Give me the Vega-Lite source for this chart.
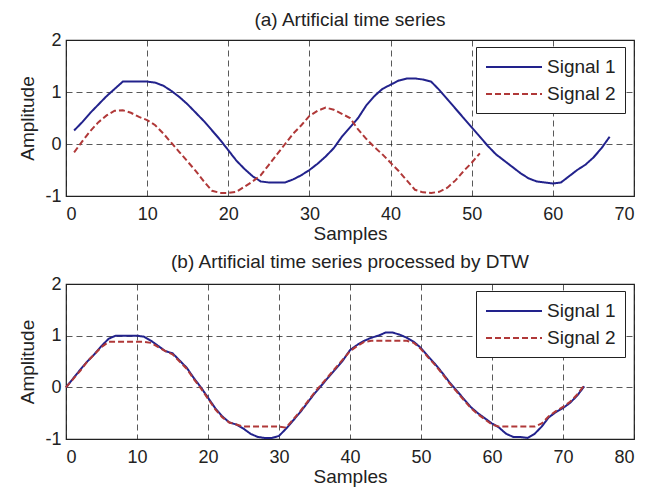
{
 "$schema": "https://vega.github.io/schema/vega-lite/v6.json",
 "padding": {"left": 18, "top": 10, "right": 8, "bottom": 0},
 "spacing": 8,
 "config": {
  "font": "Liberation Sans",
  "view": {"stroke": "#222", "strokeWidth": 1.2},
  "title": {"fontSize": 19, "fontWeight": "normal", "color": "#222", "offset": 1},
  "axis": {
   "labelFontSize": 18, "titleFontSize": 19, "titleFontWeight": "normal",
   "labelColor": "#222", "titleColor": "#222",
   "grid": true, "gridColor": "#222", "gridDash": [6, 4], "gridWidth": 1, "gridOpacity": 0.75,
   "ticks": false, "domain": false, "labelPadding": 5
  },
  "axisX": {"titlePadding": 1, "labelPadding": 9},
  "axisY": {"titlePadding": 7, "labelExpr": "datum.value"},
  "legend": {
   "orient": "none", "legendX": 410, "legendY": 7, "title": null,
   "strokeColor": "#222", "fillColor": "white", "padding": 9,
   "labelFontSize": 19, "labelColor": "#222", "labelOffset": 22, "symbolOffset": 18,
   "symbolType": "M-2.8,0H2.8", "symbolSize": 400, "symbolStrokeWidth": 2,
   "rowPadding": 6
  }
 },
 "datasets": {
  "a": [
   {"s":"Signal 1","x":1,"y":0.26},{"s":"Signal 1","x":2,"y":0.42},{"s":"Signal 1","x":3,"y":0.6},{"s":"Signal 1","x":4,"y":0.76},{"s":"Signal 1","x":5,"y":0.92},{"s":"Signal 1","x":6,"y":1.06},{"s":"Signal 1","x":7,"y":1.2},{"s":"Signal 1","x":8,"y":1.2},{"s":"Signal 1","x":9,"y":1.2},{"s":"Signal 1","x":10,"y":1.2},
   {"s":"Signal 1","x":11,"y":1.18},{"s":"Signal 1","x":12,"y":1.12},{"s":"Signal 1","x":13,"y":1.02},{"s":"Signal 1","x":14,"y":0.9},{"s":"Signal 1","x":15,"y":0.76},{"s":"Signal 1","x":16,"y":0.6},{"s":"Signal 1","x":17,"y":0.44},{"s":"Signal 1","x":18,"y":0.26},{"s":"Signal 1","x":19,"y":0.08},{"s":"Signal 1","x":20,"y":-0.12},
   {"s":"Signal 1","x":21,"y":-0.32},{"s":"Signal 1","x":22,"y":-0.48},{"s":"Signal 1","x":23,"y":-0.62},{"s":"Signal 1","x":24,"y":-0.72},{"s":"Signal 1","x":25,"y":-0.74},{"s":"Signal 1","x":26,"y":-0.74},{"s":"Signal 1","x":27,"y":-0.74},{"s":"Signal 1","x":28,"y":-0.68},{"s":"Signal 1","x":29,"y":-0.6},{"s":"Signal 1","x":30,"y":-0.5},
   {"s":"Signal 1","x":31,"y":-0.38},{"s":"Signal 1","x":32,"y":-0.24},{"s":"Signal 1","x":33,"y":-0.08},{"s":"Signal 1","x":34,"y":0.14},{"s":"Signal 1","x":35,"y":0.32},{"s":"Signal 1","x":36,"y":0.5},{"s":"Signal 1","x":37,"y":0.74},{"s":"Signal 1","x":38,"y":0.92},{"s":"Signal 1","x":39,"y":1.06},{"s":"Signal 1","x":40,"y":1.14},
   {"s":"Signal 1","x":41,"y":1.22},{"s":"Signal 1","x":42,"y":1.26},{"s":"Signal 1","x":43,"y":1.26},{"s":"Signal 1","x":44,"y":1.24},{"s":"Signal 1","x":45,"y":1.2},{"s":"Signal 1","x":46,"y":1.04},{"s":"Signal 1","x":47,"y":0.86},{"s":"Signal 1","x":48,"y":0.68},{"s":"Signal 1","x":49,"y":0.5},{"s":"Signal 1","x":50,"y":0.32},
   {"s":"Signal 1","x":51,"y":0.14},{"s":"Signal 1","x":52,"y":-0.04},{"s":"Signal 1","x":53,"y":-0.2},{"s":"Signal 1","x":54,"y":-0.32},{"s":"Signal 1","x":55,"y":-0.44},{"s":"Signal 1","x":56,"y":-0.56},{"s":"Signal 1","x":57,"y":-0.66},{"s":"Signal 1","x":58,"y":-0.72},{"s":"Signal 1","x":59,"y":-0.74},{"s":"Signal 1","x":60,"y":-0.76},
   {"s":"Signal 1","x":61,"y":-0.74},{"s":"Signal 1","x":62,"y":-0.62},{"s":"Signal 1","x":63,"y":-0.5},{"s":"Signal 1","x":64,"y":-0.4},{"s":"Signal 1","x":65,"y":-0.26},{"s":"Signal 1","x":66,"y":-0.08},{"s":"Signal 1","x":67,"y":0.14},
   {"s":"Signal 2","x":1,"y":-0.16},{"s":"Signal 2","x":2,"y":0.05},{"s":"Signal 2","x":3,"y":0.25},{"s":"Signal 2","x":4,"y":0.42},{"s":"Signal 2","x":5,"y":0.55},{"s":"Signal 2","x":6,"y":0.64},{"s":"Signal 2","x":7,"y":0.65},{"s":"Signal 2","x":8,"y":0.6},{"s":"Signal 2","x":9,"y":0.52},{"s":"Signal 2","x":10,"y":0.46},
   {"s":"Signal 2","x":11,"y":0.36},{"s":"Signal 2","x":12,"y":0.2},{"s":"Signal 2","x":13,"y":0.02},{"s":"Signal 2","x":14,"y":-0.16},{"s":"Signal 2","x":15,"y":-0.34},{"s":"Signal 2","x":16,"y":-0.52},{"s":"Signal 2","x":17,"y":-0.72},{"s":"Signal 2","x":18,"y":-0.9},{"s":"Signal 2","x":19,"y":-0.94},{"s":"Signal 2","x":20,"y":-0.94},
   {"s":"Signal 2","x":21,"y":-0.92},{"s":"Signal 2","x":22,"y":-0.82},{"s":"Signal 2","x":23,"y":-0.72},{"s":"Signal 2","x":24,"y":-0.6},{"s":"Signal 2","x":25,"y":-0.4},{"s":"Signal 2","x":26,"y":-0.2},{"s":"Signal 2","x":27,"y":0.0},{"s":"Signal 2","x":28,"y":0.2},{"s":"Signal 2","x":29,"y":0.36},{"s":"Signal 2","x":30,"y":0.54},
   {"s":"Signal 2","x":31,"y":0.64},{"s":"Signal 2","x":32,"y":0.7},{"s":"Signal 2","x":33,"y":0.66},{"s":"Signal 2","x":34,"y":0.58},{"s":"Signal 2","x":35,"y":0.5},{"s":"Signal 2","x":36,"y":0.28},{"s":"Signal 2","x":37,"y":0.1},{"s":"Signal 2","x":38,"y":-0.06},{"s":"Signal 2","x":39,"y":-0.2},{"s":"Signal 2","x":40,"y":-0.36},
   {"s":"Signal 2","x":41,"y":-0.52},{"s":"Signal 2","x":42,"y":-0.7},{"s":"Signal 2","x":43,"y":-0.88},{"s":"Signal 2","x":44,"y":-0.93},{"s":"Signal 2","x":45,"y":-0.94},{"s":"Signal 2","x":46,"y":-0.92},{"s":"Signal 2","x":47,"y":-0.84},{"s":"Signal 2","x":48,"y":-0.7},{"s":"Signal 2","x":49,"y":-0.52},{"s":"Signal 2","x":50,"y":-0.36},
   {"s":"Signal 2","x":51,"y":-0.18}
  ],
  "b": [
   {"s":"Signal 1","x":0,"y":0.0},{"s":"Signal 1","x":1,"y":0.17},{"s":"Signal 1","x":2,"y":0.34},{"s":"Signal 1","x":3,"y":0.5},{"s":"Signal 1","x":4,"y":0.64},{"s":"Signal 1","x":5,"y":0.8},{"s":"Signal 1","x":6,"y":0.94},{"s":"Signal 1","x":7,"y":1.0},{"s":"Signal 1","x":8,"y":1.0},{"s":"Signal 1","x":9,"y":1.0},
   {"s":"Signal 1","x":10,"y":1.0},{"s":"Signal 1","x":11,"y":0.98},{"s":"Signal 1","x":12,"y":0.9},{"s":"Signal 1","x":13,"y":0.8},{"s":"Signal 1","x":14,"y":0.7},{"s":"Signal 1","x":15,"y":0.66},{"s":"Signal 1","x":16,"y":0.52},{"s":"Signal 1","x":17,"y":0.38},{"s":"Signal 1","x":18,"y":0.18},{"s":"Signal 1","x":19,"y":0.0},
   {"s":"Signal 1","x":20,"y":-0.2},{"s":"Signal 1","x":21,"y":-0.4},{"s":"Signal 1","x":22,"y":-0.56},{"s":"Signal 1","x":23,"y":-0.68},{"s":"Signal 1","x":24,"y":-0.72},{"s":"Signal 1","x":25,"y":-0.8},{"s":"Signal 1","x":26,"y":-0.9},{"s":"Signal 1","x":27,"y":-0.96},{"s":"Signal 1","x":28,"y":-0.98},{"s":"Signal 1","x":29,"y":-0.98},
   {"s":"Signal 1","x":30,"y":-0.94},{"s":"Signal 1","x":31,"y":-0.8},{"s":"Signal 1","x":32,"y":-0.64},{"s":"Signal 1","x":33,"y":-0.48},{"s":"Signal 1","x":34,"y":-0.3},{"s":"Signal 1","x":35,"y":-0.12},{"s":"Signal 1","x":36,"y":0.04},{"s":"Signal 1","x":37,"y":0.2},{"s":"Signal 1","x":38,"y":0.36},{"s":"Signal 1","x":39,"y":0.52},
   {"s":"Signal 1","x":40,"y":0.72},{"s":"Signal 1","x":41,"y":0.82},{"s":"Signal 1","x":42,"y":0.9},{"s":"Signal 1","x":43,"y":0.96},{"s":"Signal 1","x":44,"y":1.0},{"s":"Signal 1","x":45,"y":1.06},{"s":"Signal 1","x":46,"y":1.06},{"s":"Signal 1","x":47,"y":1.02},{"s":"Signal 1","x":48,"y":0.96},{"s":"Signal 1","x":49,"y":0.88},
   {"s":"Signal 1","x":50,"y":0.76},{"s":"Signal 1","x":51,"y":0.6},{"s":"Signal 1","x":52,"y":0.45},{"s":"Signal 1","x":53,"y":0.28},{"s":"Signal 1","x":54,"y":0.1},{"s":"Signal 1","x":55,"y":-0.06},{"s":"Signal 1","x":56,"y":-0.22},{"s":"Signal 1","x":57,"y":-0.38},{"s":"Signal 1","x":58,"y":-0.5},{"s":"Signal 1","x":59,"y":-0.6},
   {"s":"Signal 1","x":60,"y":-0.7},{"s":"Signal 1","x":61,"y":-0.78},{"s":"Signal 1","x":62,"y":-0.9},{"s":"Signal 1","x":63,"y":-0.96},{"s":"Signal 1","x":64,"y":-0.96},{"s":"Signal 1","x":65,"y":-0.98},{"s":"Signal 1","x":66,"y":-0.9},{"s":"Signal 1","x":67,"y":-0.76},{"s":"Signal 1","x":68,"y":-0.58},{"s":"Signal 1","x":69,"y":-0.48},
   {"s":"Signal 1","x":70,"y":-0.4},{"s":"Signal 1","x":71,"y":-0.3},{"s":"Signal 1","x":72,"y":-0.16},{"s":"Signal 1","x":73,"y":0.02},
   {"s":"Signal 2","x":0,"y":0.0},{"s":"Signal 2","x":1,"y":0.16},{"s":"Signal 2","x":2,"y":0.32},{"s":"Signal 2","x":3,"y":0.5},{"s":"Signal 2","x":4,"y":0.64},{"s":"Signal 2","x":5,"y":0.78},{"s":"Signal 2","x":6,"y":0.88},{"s":"Signal 2","x":7,"y":0.88},{"s":"Signal 2","x":8,"y":0.88},{"s":"Signal 2","x":9,"y":0.88},
   {"s":"Signal 2","x":10,"y":0.88},{"s":"Signal 2","x":11,"y":0.88},{"s":"Signal 2","x":12,"y":0.86},{"s":"Signal 2","x":13,"y":0.78},{"s":"Signal 2","x":14,"y":0.7},{"s":"Signal 2","x":15,"y":0.64},{"s":"Signal 2","x":16,"y":0.5},{"s":"Signal 2","x":17,"y":0.36},{"s":"Signal 2","x":18,"y":0.16},{"s":"Signal 2","x":19,"y":-0.02},
   {"s":"Signal 2","x":20,"y":-0.22},{"s":"Signal 2","x":21,"y":-0.42},{"s":"Signal 2","x":22,"y":-0.58},{"s":"Signal 2","x":23,"y":-0.68},{"s":"Signal 2","x":24,"y":-0.72},{"s":"Signal 2","x":25,"y":-0.76},{"s":"Signal 2","x":26,"y":-0.76},{"s":"Signal 2","x":27,"y":-0.76},{"s":"Signal 2","x":28,"y":-0.76},{"s":"Signal 2","x":29,"y":-0.76},
   {"s":"Signal 2","x":30,"y":-0.76},{"s":"Signal 2","x":31,"y":-0.78},{"s":"Signal 2","x":32,"y":-0.62},{"s":"Signal 2","x":33,"y":-0.46},{"s":"Signal 2","x":34,"y":-0.28},{"s":"Signal 2","x":35,"y":-0.1},{"s":"Signal 2","x":36,"y":0.06},{"s":"Signal 2","x":37,"y":0.22},{"s":"Signal 2","x":38,"y":0.38},{"s":"Signal 2","x":39,"y":0.54},
   {"s":"Signal 2","x":40,"y":0.7},{"s":"Signal 2","x":41,"y":0.8},{"s":"Signal 2","x":42,"y":0.88},{"s":"Signal 2","x":43,"y":0.9},{"s":"Signal 2","x":44,"y":0.9},{"s":"Signal 2","x":45,"y":0.9},{"s":"Signal 2","x":46,"y":0.9},{"s":"Signal 2","x":47,"y":0.9},{"s":"Signal 2","x":48,"y":0.9},{"s":"Signal 2","x":49,"y":0.86},
   {"s":"Signal 2","x":50,"y":0.74},{"s":"Signal 2","x":51,"y":0.58},{"s":"Signal 2","x":52,"y":0.43},{"s":"Signal 2","x":53,"y":0.26},{"s":"Signal 2","x":54,"y":0.08},{"s":"Signal 2","x":55,"y":-0.08},{"s":"Signal 2","x":56,"y":-0.24},{"s":"Signal 2","x":57,"y":-0.4},{"s":"Signal 2","x":58,"y":-0.52},{"s":"Signal 2","x":59,"y":-0.62},
   {"s":"Signal 2","x":60,"y":-0.72},{"s":"Signal 2","x":61,"y":-0.76},{"s":"Signal 2","x":62,"y":-0.76},{"s":"Signal 2","x":63,"y":-0.76},{"s":"Signal 2","x":64,"y":-0.76},{"s":"Signal 2","x":65,"y":-0.76},{"s":"Signal 2","x":66,"y":-0.76},{"s":"Signal 2","x":67,"y":-0.7},{"s":"Signal 2","x":68,"y":-0.56},{"s":"Signal 2","x":69,"y":-0.46},
   {"s":"Signal 2","x":70,"y":-0.38},{"s":"Signal 2","x":71,"y":-0.28},{"s":"Signal 2","x":72,"y":-0.14},{"s":"Signal 2","x":73,"y":0.04}
  ]
 },
 "vconcat": [
  {
   "title": "(a) Artificial time series",
   "width": 568, "height": 156,
   "data": {"name": "a"},
   "mark": {"type": "line", "strokeWidth": 2},
   "encoding": {
    "x": {"field": "x", "type": "quantitative", "title": "Samples", "scale": {"domain": [0, 70], "nice": false}, "axis": {"values": [0, 10, 20, 30, 40, 50, 60, 70]}},
    "y": {"field": "y", "type": "quantitative", "title": "Amplitude", "scale": {"domain": [-1, 2], "nice": false}, "axis": {"values": [-1, 0, 1, 2]}},
    "color": {"field": "s", "type": "nominal", "scale": {"domain": ["Signal 1", "Signal 2"], "range": ["#22228c", "#b03838"]}},
    "strokeDash": {"field": "s", "type": "nominal", "scale": {"domain": ["Signal 1", "Signal 2"], "range": [[1, 0], [6, 3]]}}
   }
  },
  {
   "title": {"text": "(b) Artificial time series processed by DTW", "offset": 3},
   "width": 568, "height": 155,
   "data": {"name": "b"},
   "mark": {"type": "line", "strokeWidth": 2},
   "encoding": {
    "x": {"field": "x", "type": "quantitative", "title": "Samples", "scale": {"domain": [0, 80], "nice": false}, "axis": {"values": [0, 10, 20, 30, 40, 50, 60, 70, 80]}},
    "y": {"field": "y", "type": "quantitative", "title": "Amplitude", "scale": {"domain": [-1, 2], "nice": false}, "axis": {"values": [-1, 0, 1, 2]}},
    "color": {"field": "s", "type": "nominal", "scale": {"domain": ["Signal 1", "Signal 2"], "range": ["#22228c", "#b03838"]}},
    "strokeDash": {"field": "s", "type": "nominal", "scale": {"domain": ["Signal 1", "Signal 2"], "range": [[1, 0], [6, 3]]}}
   }
  }
 ],
 "resolve": {
  "scale": {"x": "independent", "color": "independent", "strokeDash": "independent"},
  "legend": {"color": "independent", "strokeDash": "independent"}
 }
}
